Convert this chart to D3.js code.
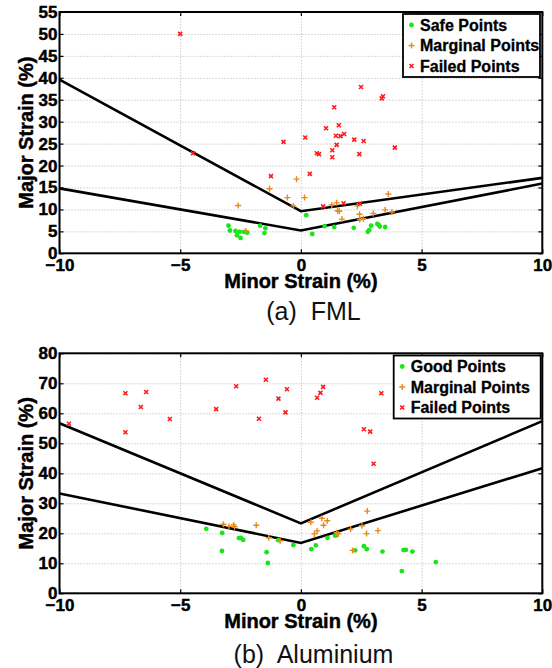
<!DOCTYPE html>
<html>
<head>
<meta charset="utf-8">
<script src="https://cdn.jsdelivr.net/npm/d3@7/dist/d3.min.js"></script>
<style>
  body { margin: 0; background: #fff; }
  text { font-family: "Liberation Sans", Arial, sans-serif; }
</style>
</head>
<body>
<svg id="chart" width="552" height="668"></svg>
<script>
// ---- data: [minor strain %, major strain %] ----
const flcX = [-10, 0, 10];

// (a) FML
const fmlUpper = [39.6, 9.6, 17.2];
const fmlLower = [14.8, 5.2, 15.9];
const fmlSafe = [[-3.0,6.3],[-2.94,5.2],[-2.71,5.1],[-2.65,4.1],[-2.54,4.9],[-2.5,3.5],[-2.36,4.9],
  [-2.22,4.7],[-1.69,6.3],[-1.47,5.7],[-1.51,4.6],[0.22,8.7],[0.47,4.4],[0.98,6.2],[1.38,6.0],
  [2.19,5.8],[2.91,6.3],[2.83,5.3],[2.77,4.9],[3.17,6.7],[3.23,6.4],[3.27,6.1],[3.49,6.0]];
const fmlMarginal = [[-2.6,10.9],[-2.28,5.1],[-1.3,14.7],[-0.56,12.7],[-0.31,10.8],[-0.18,16.9],
  [0.15,12.7],[1.28,11.0],[1.48,11.5],[2.34,10.8],[1.52,9.7],[1.59,9.6],[2.43,8.9],[1.7,7.8],
  [2.44,7.7],[2.59,7.9],[3.0,9.1],[3.49,9.9],[3.77,9.4],[3.62,13.5]];
const fmlFailed = [[-5.0,50.0],[-4.47,22.8],[-1.24,17.6],[-0.72,25.4],[0.18,26.4],[0.37,18.1],
  [0.66,22.8],[0.75,22.6],[0.92,10.7],[1.04,28.5],[1.3,23.5],[1.3,21.9],[1.38,33.3],[1.45,26.8],
  [1.48,24.7],[1.57,29.2],[1.64,26.7],[1.77,11.4],[1.79,27.2],[2.21,25.9],[2.42,22.6],[2.45,11.3],
  [2.49,37.9],[2.6,25.6],[3.35,35.3],[3.4,35.8],[3.89,24.1]];

// (b) Aluminium
const alUpper = [56.7, 23.3, 57.4];
const alLower = [33.3, 16.8, 41.7];
const alGood = [[-3.92,21.5],[-3.26,20.1],[-2.57,18.4],[-2.49,18.5],[-2.39,17.8],[-3.27,14.1],
  [-1.42,13.7],[-1.37,10.1],[-0.94,17.7],[-0.31,16.1],[0.43,14.7],[0.62,16.0],[1.1,18.5],
  [1.42,19.2],[1.49,19.4],[2.25,14.3],[2.61,15.7],[2.73,14.7],[3.38,13.9],[4.18,7.4],[4.25,14.4],
  [4.35,14.5],[4.62,13.9],[5.59,10.4]];
const alMarginal = [[-3.21,23.0],[-2.98,22.3],[-2.79,22.8],[-2.75,22.2],[-1.85,22.7],[-1.33,18.5],
  [-0.86,17.5],[0.41,23.7],[0.87,25.0],[1.09,24.2],[0.94,22.7],[0.67,20.8],[0.56,19.8],[2.75,27.4],
  [2.53,22.5],[2.06,21.4],[1.48,20.2],[1.55,19.8],[2.72,19.9],[3.19,20.9],[2.14,14.3]];
const alFailed = [[-9.61,56.5],[-7.27,66.7],[-6.41,67.1],[-6.63,62.1],[-7.27,53.7],[-5.43,58.1],
  [-3.51,61.4],[-2.68,69.0],[-1.45,71.2],[-0.58,68.0],[-0.93,64.9],[-0.64,60.3],[-1.74,58.2],
  [0.92,68.8],[0.81,66.8],[0.67,65.2],[3.33,66.7],[2.61,54.7],[2.87,53.9],[3.01,43.2]];

const xTicks = [-10, -5, 0, 5, 10];
const fmlYTicks = [0, 5, 10, 15, 20, 25, 30, 35, 40, 45, 50, 55];
const alYTicks = [0, 10, 20, 30, 40, 50, 60, 70, 80];

const colors = { safe: "#18e618", marginal: "#e8891c", failed: "#ff1a1a" };

const svg = d3.select("#chart");
svg.append("rect").attr("width", 552).attr("height", 668).attr("fill", "#fff");

// heavy bold look of the original (thin outline on bold glyphs)
const heavy = t => t.attr("font-weight", "bold").attr("fill", "#000")
    .attr("stroke", "#000").attr("stroke-width", 0.45);

// marker painters
function drawMarker(g, kind) {
    if (kind == "safe") {
        g.append("circle").attr("r", 2.4).attr("fill", colors.safe);
    } else if (kind == "marginal") {
        g.append("path").attr("d", "M-3,0H3M0,-3V3")
            .attr("stroke", colors.marginal).attr("stroke-width", 1.4);
    } else {
        g.append("path").attr("d", "M-2,-2L2,2M-2,2L2,-2")
            .attr("stroke", colors.failed).attr("stroke-width", 1.6);
    }
}

function drawPanel(p) {
    const x = d3.scaleLinear().domain([-10, 10]).range([59.5, 542.3]);
    const y = d3.scaleLinear().domain([0, p.yMax]).range([p.bottom, p.top]);
    const w = x.range()[1] - x.range()[0];
    const h = p.bottom - p.top;
    const g = svg.append("g");

    // dotted grid
    g.append("g").attr("transform", `translate(0,${p.bottom})`)
        .call(d3.axisBottom(x).tickValues(xTicks).tickSize(-h).tickFormat(""))
        .call(a => a.select(".domain").remove())
        .selectAll("line").attr("stroke", "#b4b4b4").attr("stroke-dasharray", "1,2");
    g.append("g").attr("transform", `translate(${x(-10)},0)`)
        .call(d3.axisLeft(y).tickValues(p.yTicks).tickSize(-w).tickFormat(""))
        .call(a => a.select(".domain").remove())
        .selectAll("line").attr("stroke", "#b4b4b4").attr("stroke-dasharray", "1,2");

    // inward ticks on all four sides + labels
    const tickStyle = a => {
        a.select(".domain").remove();
        a.selectAll("line").attr("stroke", "#000").attr("stroke-width", 1.2);
        a.selectAll("text").attr("font-size", 17).call(heavy);
    };
    g.append("g").attr("transform", `translate(0,${p.bottom})`)
        .call(d3.axisBottom(x).tickValues(xTicks).tickSize(-4).tickPadding(6))
        .call(tickStyle);
    g.append("g").attr("transform", `translate(0,${p.top})`)
        .call(d3.axisTop(x).tickValues(xTicks).tickSize(-4).tickFormat(""))
        .call(tickStyle);
    g.append("g").attr("transform", `translate(${x(-10)},0)`)
        .call(d3.axisLeft(y).tickValues(p.yTicks).tickSize(-4).tickPadding(2))
        .call(tickStyle);
    g.append("g").attr("transform", `translate(${x(10)},0)`)
        .call(d3.axisRight(y).tickValues(p.yTicks).tickSize(-4).tickFormat(""))
        .call(tickStyle);

    // forming limit curves
    const line = d3.line().x(d => x(d[0])).y(d => y(d[1]));
    [p.upper, p.lower].forEach(vals => {
        g.append("path")
            .datum(flcX.map((v, i) => [v, vals[i]]))
            .attr("d", line).attr("fill", "none")
            .attr("stroke", "#000").attr("stroke-width", 2.6);
    });

    // points
    p.series.forEach(s => {
        g.append("g").selectAll("g").data(s.data).enter().append("g")
            .attr("transform", d => `translate(${x(d[0])},${y(d[1])})`)
            .each(function() { drawMarker(d3.select(this), s.kind); });
    });

    // box
    g.append("rect").attr("x", x(-10)).attr("y", p.top).attr("width", w).attr("height", h)
        .attr("fill", "none").attr("stroke", "#000").attr("stroke-width", 2);

    // legend
    const lg = g.append("g");
    lg.append("rect").attr("x", p.legend.x).attr("y", p.legend.y)
        .attr("width", p.legend.w).attr("height", 63)
        .attr("fill", "#fff").attr("stroke", "#000").attr("stroke-width", 1.8);
    p.series.forEach((s, i) => {
        const cy = p.legend.y + 11 + i * 20.5;
        drawMarker(lg.append("g").attr("transform", `translate(${p.legend.x + 8.5},${cy})`), s.kind);
        lg.append("text").attr("x", p.legend.x + 17).attr("y", cy + 5.5)
            .attr("font-size", 16).call(heavy).attr("stroke-width", 0.3).text(s.label);
    });

    // axis titles
    g.append("text").attr("x", (x(-10) + x(10)) / 2).attr("y", p.bottom + 35)
        .attr("text-anchor", "middle").attr("font-size", 20).call(heavy)
        .text("Minor Strain (%)");
    g.append("text")
        .attr("transform", `translate(32.5,${(p.top + p.bottom) / 2}) rotate(-90)`)
        .attr("text-anchor", "middle").attr("font-size", 20).call(heavy)
        .text("Major Strain (%)");

    // caption
    g.append("text").attr("x", 313.5).attr("y", p.captionY)
        .attr("text-anchor", "middle").attr("font-size", 25).attr("fill", "#111")
        .attr("xml:space", "preserve").text(p.caption);
}

drawPanel({
    top: 12, bottom: 253.3, yMax: 55, yTicks: fmlYTicks,
    upper: fmlUpper, lower: fmlLower,
    series: [
        {kind: "safe", label: "Safe Points", data: fmlSafe},
        {kind: "marginal", label: "Marginal Points", data: fmlMarginal},
        {kind: "failed", label: "Failed Points", data: fmlFailed}
    ],
    legend: {x: 403, y: 14, w: 137},
    caption: "(a)  FML", captionY: 320
});

drawPanel({
    top: 353.3, bottom: 593.3, yMax: 80, yTicks: alYTicks,
    upper: alUpper, lower: alLower,
    series: [
        {kind: "safe", label: "Good Points", data: alGood},
        {kind: "marginal", label: "Marginal Points", data: alMarginal},
        {kind: "failed", label: "Failed Points", data: alFailed}
    ],
    legend: {x: 393.7, y: 355.5, w: 147},
    caption: "(b)  Aluminium", captionY: 662.5
});
</script>
</body>
</html>
